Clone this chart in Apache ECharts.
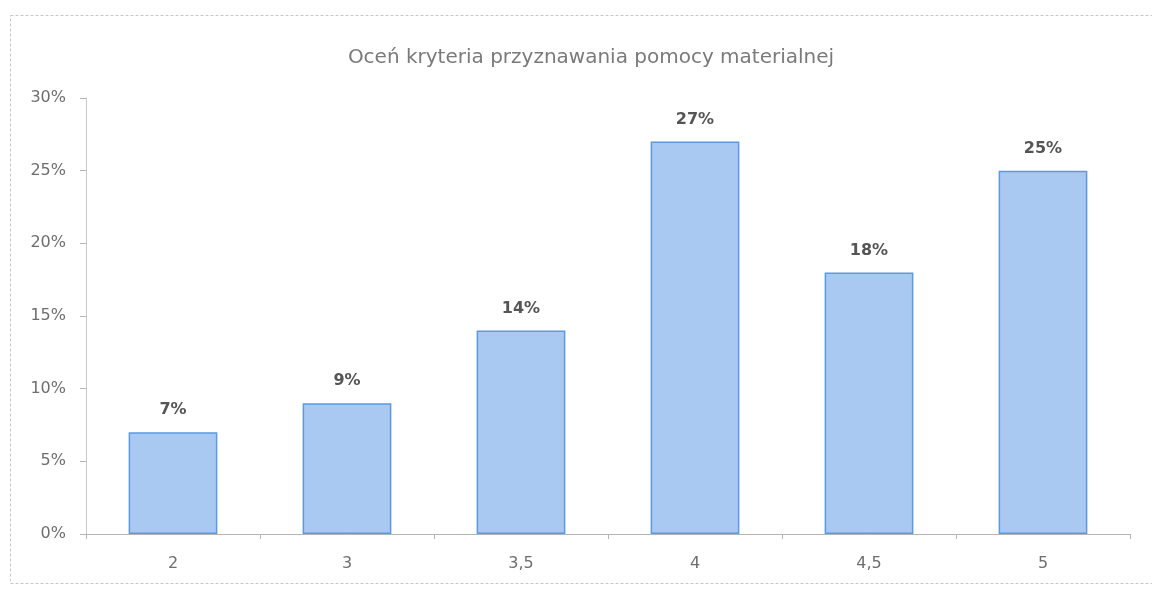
<!DOCTYPE html>
<html>
<head>
<meta charset="utf-8">
<script src="https://cdn.jsdelivr.net/npm/echarts@6/dist/echarts.min.js"></script>
<style>
  html, body { margin: 0; padding: 0; background: #fff; }
  #container { width: 1152px; height: 589px; }
</style>
</head>
<body>
<div id="container"></div>
<script>
var titleText = "Oceń kryteria przyznawania pomocy materialnej";
var categories = ["2", "3", "3,5", "4", "4,5", "5"];
var values = [7, 9, 14, 27, 18, 25];

var myChart = echarts.init(document.getElementById("container"));

var option = {
  animation: false,
  backgroundColor: "#ffffff",
  graphic: [
    {
      // ramka wokół wykresu
      type: "rect",
      shape: { x: 10.5, y: 15.5, width: 1160, height: 568 },
      style: { fill: "none", stroke: "#c8c8c8", lineWidth: 1, lineDash: [3, 2] },
      silent: true,
    },
  ],
  title: {
    text: titleText,
    left: 586,
    textAlign: "center",
    top: 43,
    textStyle: {
      color: "#7a7a7a",
      fontSize: 20,
      fontWeight: "normal",
      fontFamily: "DejaVu Sans",
    },
  },
  grid: {
    left: 86,
    right: 22,
    top: 98,
    bottom: 55,
  },
  xAxis: {
    type: "category",
    data: categories,
    axisLine: { lineStyle: { color: "#b5b5b5", width: 1 } },
    axisTick: { show: true, length: 5, lineStyle: { color: "#b5b5b5" } },
    axisLabel: {
      color: "#6e6e6e",
      fontSize: 16,
      margin: 22,
      fontFamily: "DejaVu Sans",
    },
  },
  yAxis: {
    type: "value",
    min: 0,
    max: 30,
    interval: 5,
    axisLine: { show: true, lineStyle: { color: "#c8c8c8", width: 1 } },
    axisTick: { show: true, length: 6, lineStyle: { color: "#b5b5b5" } },
    splitLine: { show: false },
    axisLabel: {
      color: "#6e6e6e",
      fontSize: 16,
      margin: 20,
      fontFamily: "DejaVu Sans",
      formatter: "{value}%",
    },
  },
  series: [
    {
      type: "bar",
      data: values,
      barWidth: "51%",
      itemStyle: {
        color: "#a9c9f2",
        borderColor: "#5a9ae0",
        borderWidth: 1.5,
      },
      label: {
        show: true,
        position: "top",
        distance: 14,
        formatter: "{c}%",
        color: "#555555",
        fontSize: 16,
        fontWeight: "bold",
        fontFamily: "DejaVu Sans",
      },
    },
  ],
};

myChart.setOption(option);
</script>
</body>
</html>
